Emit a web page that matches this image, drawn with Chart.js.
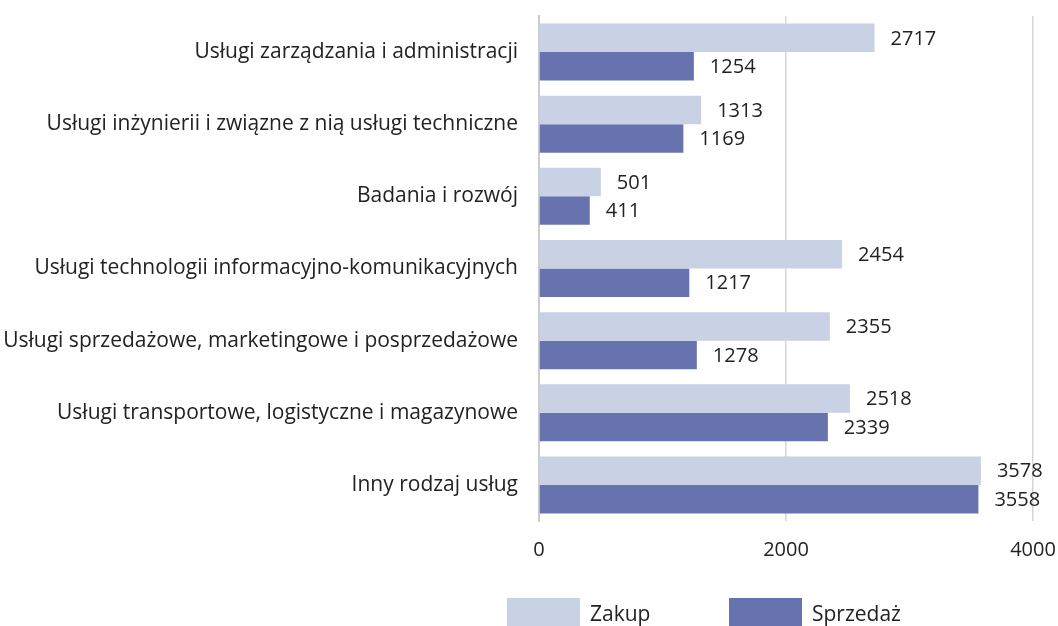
<!DOCTYPE html>
<html>
<head>
<meta charset="utf-8">
<script src="https://cdn.jsdelivr.net/npm/chart.js@4"></script>
<style>
  html, body { margin: 0; padding: 0; background: #fff; }
  #wrap { width: 1058px; height: 626px; position: relative; }
</style>
</head>
<body>
<div id="wrap"><canvas id="chart"></canvas></div>
<script>
const categories = [
  "Usługi zarządzania i administracji",
  "Usługi inżynierii i związne z nią usługi techniczne",
  "Badania i rozwój",
  "Usługi technologii informacyjno-komunikacyjnych",
  "Usługi sprzedażowe, marketingowe i posprzedażowe",
  "Usługi transportowe, logistyczne i magazynowe",
  "Inny rodzaj usług"
];
const zakup = [2717, 1313, 501, 2454, 2355, 2518, 3578];
const sprzedaz = [1254, 1169, 411, 1217, 1278, 2339, 3558];
const xTicks = [0, 2000, 4000];

const FONT = "'Open Sans', 'DejaVu Sans', sans-serif";
const TEXT = "#222222";

// value labels to the right of each bar
const valueLabels = {
  id: "valueLabels",
  afterDatasetsDraw(chart) {
    const ctx = chart.ctx;
    ctx.save();
    ctx.font = "20px " + FONT;
    ctx.fillStyle = TEXT;
    ctx.textAlign = "left";
    ctx.textBaseline = "middle";
    chart.data.datasets.forEach((ds, i) => {
      chart.getDatasetMeta(i).data.forEach((el, j) => {
        ctx.fillText(String(ds.data[j]), el.x + 16, el.y + 1);
      });
    });
    ctx.restore();
  }
};

// legend with big boxes at the bottom
const bottomLegend = {
  id: "bottomLegend",
  afterDraw(chart) {
    const ctx = chart.ctx;
    const xs = [507, 729];
    ctx.save();
    ctx.font = "21px " + FONT;
    ctx.textBaseline = "middle";
    ctx.textAlign = "left";
    chart.data.datasets.forEach((ds, i) => {
      ctx.fillStyle = ds.backgroundColor;
      ctx.fillRect(xs[i], 598, 73, 30);
      ctx.fillStyle = TEXT;
      ctx.fillText(ds.label, xs[i] + 83, 615);
    });
    ctx.restore();
  }
};

new Chart(document.getElementById("chart"), {
  type: "bar",
  data: {
    labels: categories,
    datasets: [
      { label: "Zakup", data: zakup, backgroundColor: "#c9d1e5" },
      { label: "Sprzedaż", data: sprzedaz, backgroundColor: "#6673ae" }
    ]
  },
  options: {
    indexAxis: "y",
    responsive: true,
    maintainAspectRatio: false,
    animation: false,
    layout: { padding: { left: 0, right: 25, top: 16, bottom: 66 } },
    datasets: { bar: { barPercentage: 1, categoryPercentage: 0.79 } },
    plugins: {
      legend: { display: false },
      tooltip: { enabled: false }
    },
    scales: {
      x: {
        min: 0,
        max: 4000,
        afterBuildTicks: s => { s.ticks = xTicks.map(v => ({ value: v })); },
        afterFit: s => {
          s.height = 39;
          s.paddingLeft = 0;
          s.paddingRight = 0;
        },
        grid: { color: "#d6d6d6", lineWidth: 1.5, drawTicks: false },
        border: { display: false },
        ticks: {
          padding: 17,
          color: TEXT,
          font: { family: FONT, size: 20 },
          callback: v => String(v)
        }
      },
      y: {
        afterFit: s => {
          s.width = 539;
          s.paddingTop = 0;
          s.paddingBottom = 0;
        },
        grid: { display: false, drawTicks: false },
        border: { display: true, color: "#cccccc", width: 2 },
        ticks: { padding: 21, color: TEXT, font: { family: FONT, size: 21 } }
      }
    }
  },
  plugins: [valueLabels, bottomLegend]
});
</script>
</body>
</html>
